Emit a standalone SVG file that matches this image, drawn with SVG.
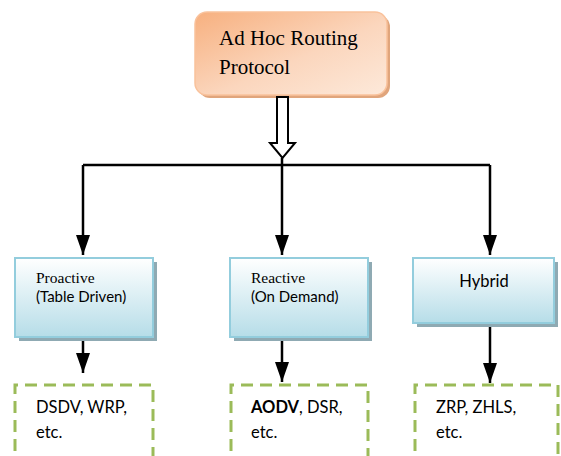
<svg xmlns="http://www.w3.org/2000/svg" width="561" height="456" viewBox="0 0 561 456">
<defs>
<linearGradient id="og" x1="0" y1="0" x2="1" y2="1">
<stop offset="0" stop-color="#f7b07f"/>
<stop offset="0.55" stop-color="#fbd6bd"/>
<stop offset="1" stop-color="#fde9da"/>
</linearGradient>
<linearGradient id="bg" x1="0" y1="0" x2="0" y2="1">
<stop offset="0" stop-color="#ffffff"/>
<stop offset="1" stop-color="#b6dde8"/>
</linearGradient>
<marker id="ah" markerWidth="20" markerHeight="14" refX="20" refY="7" orient="auto" markerUnits="userSpaceOnUse" viewBox="0 0 20 14">
<path d="M0,0 L20,7 L0,14 Z" fill="#000"/>
</marker>
</defs>
<style>
.line{stroke:#000;stroke-width:2.5;fill:none}
.arr{stroke:#000;stroke-width:2.5;fill:none}
.cat{fill:url(#bg);stroke:#93cddd;stroke-width:2}
.shadow{fill:#8faab3}
.dash{fill:none;stroke:#9bbb59;stroke-width:3;stroke-dasharray:12 7}
.serif{font-family:"Liberation Serif","Times New Roman",serif;fill:#000}
.sans{font-family:Lato,"Open Sans","Liberation Sans",sans-serif;fill:#000}
</style>
<rect width="561" height="456" fill="#fff"/>
<g id="root">
<rect x="198" y="15" width="192" height="83" rx="12" fill="#e0a57c"/>
<rect x="195" y="12" width="192" height="83" rx="12" fill="url(#og)" stroke="#f9c29c" stroke-width="1.5"/>
<text class="serif" font-size="21" x="219" y="45">Ad Hoc Routing</text>
<text class="serif" font-size="21" x="219" y="74">Protocol</text>
</g>
<g id="connectors">
<path d="M277,97 L288,97 L288,143 L295,143 L282.5,158 L270,143 L277,143 Z" fill="#fff" stroke="#000" stroke-width="2"/>
<path class="line" d="M83,165 L490,165"/>
<path class="arr" d="M282,158 L282,255" marker-end="url(#ah)"/>
<path class="arr" d="M83,165 L83,255" marker-end="url(#ah)"/>
<path class="arr" d="M490,165 L490,255" marker-end="url(#ah)"/>
<path class="arr" d="M83,337 L83,373" marker-end="url(#ah)"/>
<path class="arr" d="M282,337 L282,382" marker-end="url(#ah)"/>
<path class="arr" d="M490,323 L490,383" marker-end="url(#ah)"/>
</g>
<g id="proactive">
<rect class="shadow" x="19" y="262" width="138" height="79"/>
<rect class="cat" x="15" y="258" width="138" height="79"/>
<text class="serif" font-size="15.5" x="36" y="283">Proactive</text>
<text class="sans" font-size="15" x="36" y="302">(Table Driven)</text>
</g>
<g id="reactive">
<rect class="shadow" x="234" y="262" width="138" height="79"/>
<rect class="cat" x="230" y="258" width="138" height="79"/>
<text class="serif" font-size="15.5" x="251" y="283">Reactive</text>
<text class="sans" font-size="15" x="251" y="302">(On Demand)</text>
</g>
<g id="hybrid">
<rect class="shadow" x="417" y="262" width="141" height="65"/>
<rect class="cat" x="413" y="258" width="141" height="65"/>
<text class="sans" font-size="16.5" x="484" y="287" text-anchor="middle">Hybrid</text>
</g>
<g id="proactive-ex">
<path class="dash" d="M15,470 L15,385 L153,385 L153,470"/>
<text class="sans" font-size="16.5" x="36" y="413">DSDV, WRP,</text>
<text class="sans" font-size="16.5" x="36" y="438">etc.</text>
</g>
<g id="reactive-ex">
<path class="dash" d="M231,470 L231,385 L368,385 L368,470"/>
<text class="sans" font-size="16.5" x="251" y="413"><tspan font-weight="bold">AODV</tspan>, DSR,</text>
<text class="sans" font-size="16.5" x="251" y="438">etc.</text>
</g>
<g id="hybrid-ex">
<path class="dash" d="M415,470 L415,385 L558,385 L558,470"/>
<text class="sans" font-size="16.5" x="436" y="413">ZRP, ZHLS,</text>
<text class="sans" font-size="16.5" x="436" y="438">etc.</text>
</g>
</svg>
